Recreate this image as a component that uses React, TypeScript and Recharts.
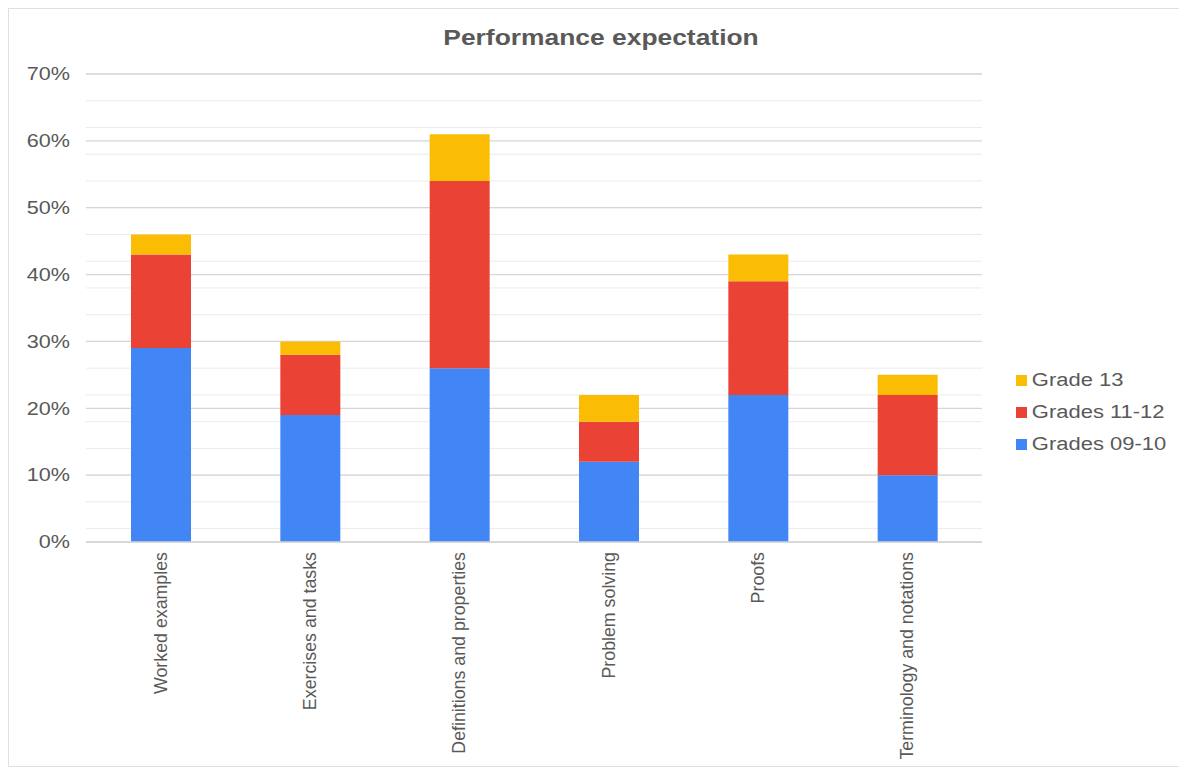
import { BarChart, Bar, XAxis, YAxis, CartesianGrid } from 'recharts'

const categories = [
  'Worked examples',
  'Exercises and tasks',
  'Definitions and properties',
  'Problem solving',
  'Proofs',
  'Terminology and notations',
]

const grades0910 = [29, 19, 26, 12, 22, 10]
const grades1112 = [14, 9, 28, 6, 17, 12]
const grade13 = [3, 2, 7, 4, 4, 3]

const yTicks = [0, 10, 20, 30, 40, 50, 60, 70]
const minorTicks = [
  0, 2, 4, 6, 8, 10, 12, 14, 16, 18, 20, 22, 24, 26, 28, 30, 32, 34,
  36, 38, 40, 42, 44, 46, 48, 50, 52, 54, 56, 58, 60, 62, 64, 66, 68, 70,
]

const series = [
  { key: 'g13', name: 'Grade 13', color: '#fbbc04' },
  { key: 'g1112', name: 'Grades 11-12', color: '#ea4335' },
  { key: 'g0910', name: 'Grades 09-10', color: '#4285f4' },
]

const data = categories.map((name, i) => ({
  name,
  g0910: grades0910[i],
  g1112: grades1112[i],
  g13: grade13[i],
}))

const FONT = '"Liberation Sans", Arial, sans-serif'
const TEXT = '#595959'

// the source image is a little stretched sideways, so the flat texts get a scaleX
function YTick({ x, y, payload }: any) {
  return (
    <g transform={`translate(${x}, ${y}) scale(1.2, 1)`}>
      <text
        x={0}
        y={0}
        textAnchor="end"
        dominantBaseline="central"
        fontSize={18}
        fontFamily={FONT}
        fill={TEXT}
      >
        {`${payload.value}%`}
      </text>
    </g>
  )
}

function RotatedTick({ x, y, payload }: any) {
  return (
    <text
      x={x}
      y={y + 2}
      transform={`rotate(-90, ${x}, ${y + 2})`}
      textAnchor="end"
      dominantBaseline="central"
      fontSize={17.8}
      fontFamily={FONT}
      fill={TEXT}
    >
      {payload.value}
    </text>
  )
}

export default function App() {
  return (
    <div
      style={{
        position: 'relative',
        width: 1173,
        height: 759,
        border: '1px solid #e0e0e0',
        boxSizing: 'border-box',
        background: '#fff',
        overflow: 'hidden',
      }}
    >
      <div
        style={{
          position: 'absolute',
          top: 16,
          left: 592,
          transform: 'translateX(-50%) scaleX(1.2)',
          whiteSpace: 'nowrap',
          fontFamily: FONT,
          fontWeight: 'bold',
          fontSize: 22,
          color: TEXT,
        }}
      >
        Performance expectation
      </div>
      <div
        style={{
          position: 'absolute',
          left: 1007,
          top: 355,
          fontFamily: FONT,
          fontSize: 18,
          color: TEXT,
          transform: 'scaleX(1.22)',
          transformOrigin: 'left top',
        }}
      >
        {series.map((s) => (
          <div key={s.key} style={{ display: 'flex', alignItems: 'center', height: 32 }}>
            <span style={{ width: 9, height: 11, background: s.color, marginRight: 4 }} />
            {s.name}
          </div>
        ))}
      </div>
      <BarChart
        width={1171}
        height={757}
        data={data}
        margin={{ top: 65, right: 198, left: 0, bottom: 0 }}
        barSize={60}
      >
        <CartesianGrid
          vertical={false}
          horizontalValues={minorTicks}
          stroke="#ebebeb"
          strokeWidth={1}
        />
        <CartesianGrid
          vertical={false}
          horizontalValues={yTicks}
          stroke="#d6d6d6"
          strokeWidth={1.3}
        />
        <XAxis
          dataKey="name"
          interval={0}
          height={224}
          tick={<RotatedTick />}
          tickLine={false}
          axisLine={{ stroke: '#d6d6d6', strokeWidth: 1.3 }}
        />
        <YAxis
          domain={[0, 70]}
          ticks={yTicks}
          width={77}
          tick={<YTick />}
          tickLine={false}
          axisLine={false}
          tickMargin={10}
        />
        <Bar dataKey="g0910" name="Grades 09-10" stackId="a" fill="#4285f4" isAnimationActive={false} />
        <Bar dataKey="g1112" name="Grades 11-12" stackId="a" fill="#ea4335" isAnimationActive={false} />
        <Bar dataKey="g13" name="Grade 13" stackId="a" fill="#fbbc04" isAnimationActive={false} />
      </BarChart>
    </div>
  )
}
